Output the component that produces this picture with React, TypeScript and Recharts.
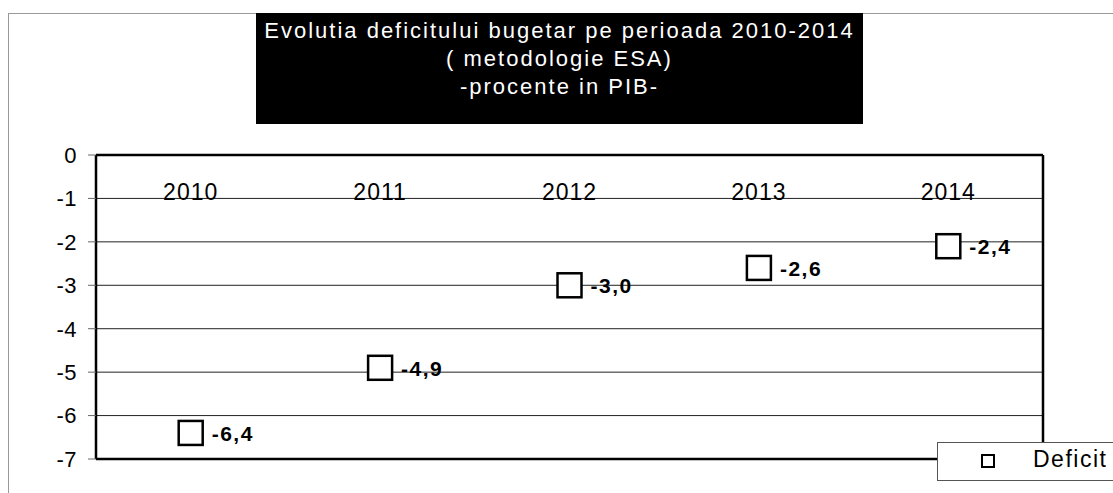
import React from "react";
import {
  ComposedChart,
  Scatter,
  XAxis,
  YAxis,
  CartesianGrid,
  ReferenceLine,
} from "recharts";

const years = ["2010", "2011", "2012", "2013", "2014"];
const deficitValues = [-6.4, -4.9, -3.0, -2.6, -2.1];
const deficitLabels = ["-6,4", "-4,9", "-3,0", "-2,6", "-2,4"];
const yTicks = [0, -1, -2, -3, -4, -5, -6, -7];
const titleLines = [
  "Evolutia deficitului bugetar pe perioada 2010-2014",
  "( metodologie ESA)",
  "-procente in PIB-",
];
const seriesName = "Deficit";

const data = years.map((y, i) => ({
  year: y,
  value: deficitValues[i],
  label: deficitLabels[i],
}));

const FONT = "'Liberation Sans', Arial, Helvetica, sans-serif";

const SquareShape = (props: any) => {
  const { cx, cy, payload } = props;
  if (cx == null || cy == null) return null;
  return (
    <g>
      <rect
        x={cx - 12}
        y={cy - 12}
        width={24}
        height={24}
        fill="#fff"
        stroke="#000"
        strokeWidth={2.5}
      />
      <text
        x={cx + 21}
        y={cy + 8}
        fontFamily={FONT}
        fontSize={21}
        fontWeight="bold"
        letterSpacing={1.5}
        fill="#000"
      >
        {payload.label}
      </text>
    </g>
  );
};

const YearTick = (props: any) => {
  const { x, y, payload } = props;
  return (
    <text
      x={x}
      y={y + 45}
      textAnchor="middle"
      fontFamily={FONT}
      fontSize={23}
      letterSpacing={1}
      fill="#000"
    >
      {payload.value}
    </text>
  );
};

export default function App() {
  return (
    <div
      style={{
        position: "absolute",
        left: 0,
        top: 0,
        width: 1113,
        height: 493,
        background: "#fff",
        fontFamily: FONT,
        overflow: "hidden",
      }}
    >
      <div
        style={{
          position: "absolute",
          left: 8,
          top: 13,
          width: 1110,
          height: 490,
          borderLeft: "1px solid #999",
          borderTop: "1px solid #999",
        }}
      />
      <ComposedChart
        width={1113}
        height={493}
        data={data}
        margin={{ top: 154, right: 69, bottom: 34, left: 36 }}
        style={{ position: "absolute", left: 0, top: 0 }}
      >
        <CartesianGrid vertical={false} stroke="#222" strokeWidth={1} />
        <XAxis
          dataKey="year"
          type="category"
          scale="band"
          orientation="top"
          height={1}
          tickSize={0}
          tickMargin={0}
          tickLine={false}
          axisLine={{ stroke: "#000", strokeWidth: 2.5 }}
          tick={<YearTick />}
          interval={0}
        />
        <YAxis
          domain={[-7, 0]}
          ticks={yTicks}
          width={60}
          tickSize={8}
          tickMargin={11}
          tickLine={{ stroke: "#666" }}
          axisLine={{ stroke: "#000", strokeWidth: 2.5 }}
          tick={{ fontFamily: FONT, fontSize: 22, fill: "#000", letterSpacing: 0.5 }}
          interval={0}
        />
        <YAxis
          yAxisId="right"
          orientation="right"
          domain={[-7, 0]}
          width={1}
          tick={false}
          tickLine={false}
          axisLine={{ stroke: "#000", strokeWidth: 2.5 }}
        />
        <ReferenceLine y={-7} stroke="#000" strokeWidth={2.5} />
        <Scatter
          dataKey="value"
          name={seriesName}
          shape={<SquareShape />}
          isAnimationActive={false}
        />
      </ComposedChart>
      <div
        style={{
          position: "absolute",
          left: 256,
          top: 13,
          width: 607,
          height: 111,
          background: "#000",
          color: "#fff",
          fontSize: 22,
          lineHeight: "28px",
          textAlign: "center",
          paddingTop: 4,
          boxSizing: "border-box",
          letterSpacing: 2,
          whiteSpace: "nowrap",
        }}
      >
        {titleLines.map((t) => (
          <div key={t}>{t}</div>
        ))}
      </div>
      <div
        style={{
          position: "absolute",
          left: 937,
          top: 442,
          width: 190,
          height: 39,
          background: "#fff",
          border: "1px solid #555",
          boxSizing: "border-box",
        }}
      >
        <div
          style={{
            position: "absolute",
            left: 43,
            top: 11,
            width: 14,
            height: 14,
            border: "2px solid #000",
            boxSizing: "border-box",
          }}
        />
        <div
          style={{
            position: "absolute",
            left: 95,
            top: 2,
            fontSize: 23,
            lineHeight: "28px",
            letterSpacing: 1.5,
            color: "#000",
          }}
        >
          {seriesName}
        </div>
      </div>
    </div>
  );
}
